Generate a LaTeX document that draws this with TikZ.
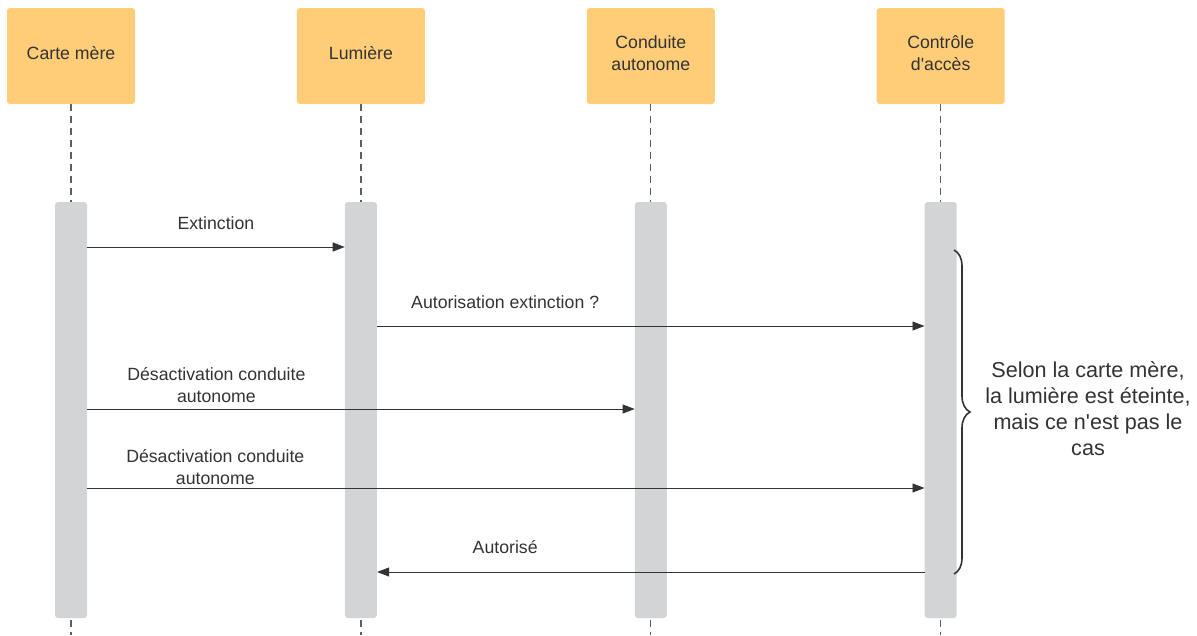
\documentclass[tikz,border=0pt]{standalone}
\usepackage{fontspec}
\setmainfont{Liberation Sans}
\usepackage{tikz}
\usetikzlibrary{arrows.meta,positioning,calc,decorations.pathreplacing}
\definecolor{sqedge}{RGB}{51,51,51}
\definecolor{sqhead}{RGB}{255,204,120}
\definecolor{sqbar}{RGB}{211,212,214}
\definecolor{sqlife}{RGB}{95,95,95}
\tikzset{
  head/.style={
    fill=sqhead, rounded corners=3pt, align=center, inner sep=0pt,
    minimum width=128pt, minimum height=96pt, text=sqedge, text depth=6pt,
    font=\fontsize{17.7}{22}\selectfont
  },
  bar/.style={fill=sqbar, rounded corners=3pt, inner sep=0pt,
    minimum width=32pt, minimum height=416pt},
  life/.style={draw=sqlife, line width=1.3pt, dash pattern=on 7pt off 5pt},
  msg/.style={-{Triangle[length=12pt,width=9pt]}, draw=sqedge, line width=0.9pt},
  lbl/.style={anchor=south, inner sep=0pt, align=center, text=sqedge,
    font=\fontsize{17.7}{21.5}\selectfont},
  brc/.style={draw=sqedge, line width=1.6pt, decorate,
    decoration={brace, amplitude=16pt}},
  note/.style={align=center, text=sqedge, inner sep=0pt,
    font=\fontsize{21.6}{26}\selectfont}
}

\begin{document}
\begin{tikzpicture}[x=1pt, y=-1pt, node distance=161.5pt]
  \useasboundingbox (0,0) rectangle (1197,635);
  % lifeline heads
  \node[head] (cm) at (71,56) {Carte mère};
  \node[head, right=of cm] (lum) {Lumière};
  \node[head, right=of lum] (ca) {Conduite\\autonome};
  \node[head, right=of ca] (acc) {Contrôle\\d\textquotesingle accès};
  \coordinate (bot) at (0,635);
  \coordinate (mid) at (0,410);
  \foreach \h in {cm,lum,ca,acc}
    \draw[life] (\h.south) -- (\h.south |- bot);
  % activation bars
  \node[bar] (bcm) at (cm |- mid) {};
  \node[bar] (blum) at (lum |- mid) {};
  \node[bar] (bca) at (ca |- mid) {};
  \node[bar] (bacc) at (acc |- mid) {};
  % messages
  \coordinate (m1) at (0,247);
  \coordinate (m2) at (0,326);
  \coordinate (m3) at (0,409);
  \coordinate (m4) at (0,488);
  \coordinate (m5) at (0,572);
  \draw[msg] (bcm.east |- m1) -- node[lbl, yshift=16.5pt] {Extinction} (blum.west |- m1);
  \draw[msg] (blum.east |- m2) -- node[lbl, pos=0.234, yshift=16.5pt] {Autorisation extinction ?} (bacc.west |- m2);
  \draw[msg] (bcm.east |- m3) -- node[lbl, pos=0.236, yshift=6pt] {Désactivation conduite\\autonome} (bca.west |- m3);
  \draw[msg] (bcm.east |- m4) -- node[lbl, pos=0.153, yshift=3pt] {Désactivation conduite\\autonome} (bacc.west |- m4);
  \draw[msg] (bacc.west |- m5) -- node[lbl, pos=0.766, yshift=18pt] {Autorisé} (blum.east |- m5);
  % brace and remark
  \coordinate (bt) at (954,250);
  \coordinate (bb) at (954,574);
  \draw[brc] (bt) -- (bb);
  \node[note] (rem) at (1088,409) {Selon la carte mère,\\la lumière est éteinte,\\mais ce n\textquotesingle est pas le\\cas};
\end{tikzpicture}
\end{document}
